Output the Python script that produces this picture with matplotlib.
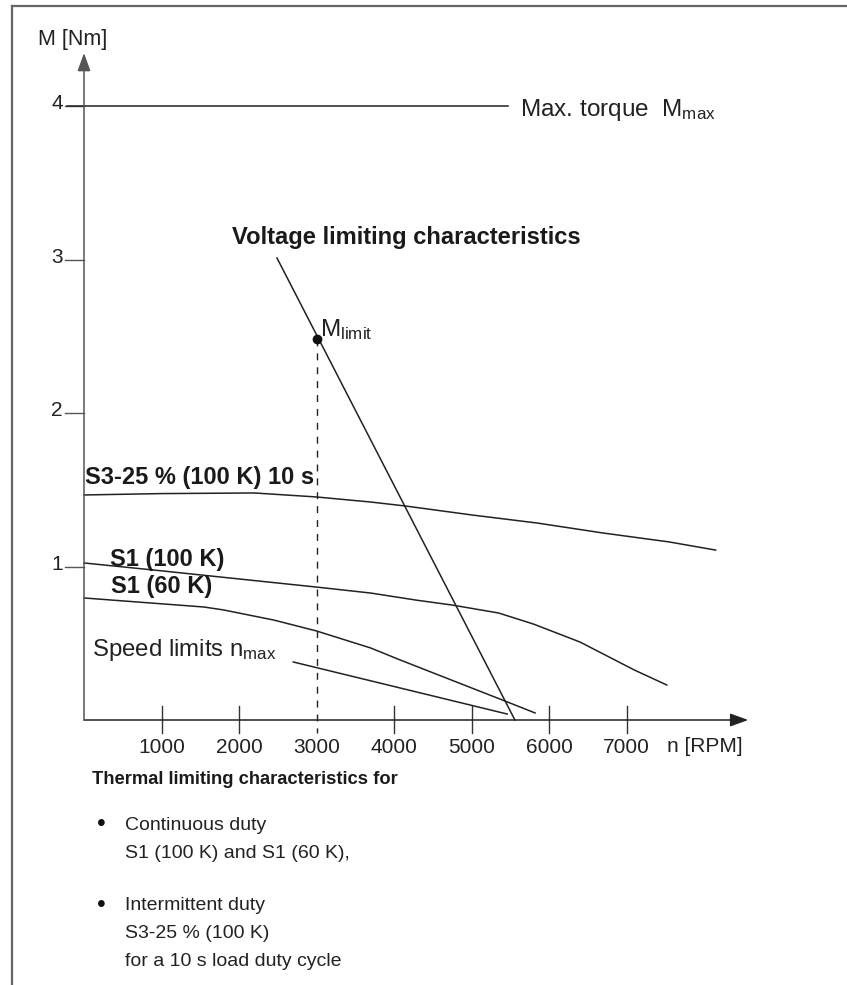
import matplotlib.pyplot as plt
from matplotlib.lines import Line2D

plt.rcParams['font.family'] = 'Liberation Sans'
plt.rcParams['mathtext.fontset'] = 'custom'
plt.rcParams['mathtext.rm'] = 'Liberation Sans'
plt.rcParams['mathtext.bf'] = 'Liberation Sans:bold'

# torque characteristics, n in RPM, M in Nm
n_s3 = [0, 1000, 2200, 3000, 3700, 4150, 5000, 5850, 6700, 7550, 8150]
m_s3 = [1.466, 1.475, 1.479, 1.453, 1.420, 1.394, 1.336, 1.283, 1.218, 1.160, 1.107]

n_s1_100 = [0, 900, 3000, 3700, 4300, 4750, 5350, 5800, 6400, 7100, 7520]
m_s1_100 = [1.023, 0.977, 0.866, 0.827, 0.78, 0.749, 0.697, 0.625, 0.508, 0.326, 0.228]

n_s1_60 = [0, 1550, 1800, 2450, 3000, 3700, 4080, 5400, 5820]
m_s1_60 = [0.795, 0.736, 0.717, 0.651, 0.58, 0.469, 0.391, 0.13, 0.046]

n_speed = [2700, 5460]
m_speed = [0.378, 0.039]

n_volt = [2490, 5560]
m_volt = [3.01, 0.0]

n_limit = 3000
m_limit = 2.48
m_max = 4.0

x_ticks = [1000, 2000, 3000, 4000, 5000, 6000, 7000]
y_ticks = [1, 2, 3, 4]

W, H = 847, 985
fig = plt.figure(figsize=(W / 100, H / 100), dpi=100)
ax = fig.add_axes([0, 0, 1, 1])
ax.set_xlim(-84 / 0.0775, (W - 84) / 0.0775)
ax.set_ylim(-(H - 720) / 153.5, 720 / 153.5)
ax.axis('off')


def px(x, y):
    return x / W, 1 - y / H


# frame
fig.add_artist(Line2D([12 / W, 1], [1 - 6 / H, 1 - 6 / H], color='#666666', lw=1.6))
fig.add_artist(Line2D([12 / W, 12 / W], [0, 1 - 6 / H], color='#666666', lw=1.6))

# axes with arrows
arr = '-|>,head_length=0.55,head_width=0.2'
ax.annotate('', xy=(8570, 0), xytext=(0, 0),
            arrowprops=dict(arrowstyle=arr, color='#222222', lw=1.1,
                            mutation_scale=20, shrinkA=0, shrinkB=0))
ax.annotate('', xy=(0, 4.345), xytext=(0, 0),
            arrowprops=dict(arrowstyle=arr, color='#555555', lw=1.1,
                            mutation_scale=20, shrinkA=0, shrinkB=0))

for t in x_ticks:
    if t != n_limit:
        ax.plot([t, t], [0.091, -0.085], color='#333333', lw=1.0)
    ax.text(t, -0.18, str(t), ha='center', va='center', fontsize=15, color='#222222')
ax.text(7520, -0.175, 'n [RPM]', ha='left', va='center', fontsize=15, color='#222222')

for t in y_ticks:
    ax.plot([-245, 0], [t, t], color='#555555', lw=1.0)
    ax.text(-275, t - 0.02, str(t), ha='right', va='baseline', fontsize=15, color='#222222')

ax.text(-590, 4.43, 'M [Nm]', ha='left', va='center', fontsize=15.5, color='#222222')

# curves
lc = '#222222'
ax.plot([-219, 5470], [m_max, m_max], color=lc, lw=1.1)
ax.plot(n_s3, m_s3, color=lc, lw=1.1)
ax.plot(n_s1_100, m_s1_100, color=lc, lw=1.1)
ax.plot(n_s1_60, m_s1_60, color=lc, lw=1.1)
ax.plot(n_speed, m_speed, color=lc, lw=1.1)
ax.plot(n_volt, m_volt, color=lc, lw=1.1)
ax.plot([n_limit, n_limit], [m_limit, -0.085], color=lc, lw=1.0, ls=(0, (5, 5)))
ax.plot(n_limit, m_limit, 'o', color='#111111', ms=6)

# labels inside the chart
fig.text(*px(520, 116), r'Max. torque  $\mathregular{M_{max}}$', fontsize=17.5,
         va='baseline', color='#222222')
fig.text(*px(232, 244), 'Voltage limiting characteristics', fontsize=17.1,
         fontweight='bold', va='baseline', color='#1a1a1a')
fig.text(*px(320, 336), r'$\mathregular{M_{limit}}$', fontsize=17.5,
         va='baseline', color='#222222')
fig.text(*px(85, 484), 'S3-25 % (100 K) 10 s', fontsize=17,
         fontweight='bold', va='baseline', color='#1a1a1a')
fig.text(*px(110, 566), 'S1 (100 K)', fontsize=17,
         fontweight='bold', va='baseline', color='#1a1a1a')
fig.text(*px(111, 593), 'S1 (60 K)', fontsize=17,
         fontweight='bold', va='baseline', color='#1a1a1a')
fig.text(*px(92, 656), r'Speed limits $\mathregular{n_{max}}$', fontsize=17.3,
         va='baseline', color='#222222')

# notes below the chart
fig.text(*px(92, 780), 'Thermal limiting characteristics for', fontsize=13.2,
         fontweight='bold', va='center', color='#1a1a1a')
notes = [(825, 'Continuous duty'), (853, 'S1 (100 K) and S1 (60 K),'),
         (906, 'Intermittent duty'), (934, 'S3-25 % (100 K)'),
         (961, 'for a 10 s load duty cycle')]
for y, s in notes:
    fig.text(*px(125, y), s, fontsize=14, va='center', color='#222222')
for y in [824, 905]:
    fig.text(*px(97, y), '•', fontsize=18, va='center', color='#111111')

fig.savefig('out.png', dpi=100)
